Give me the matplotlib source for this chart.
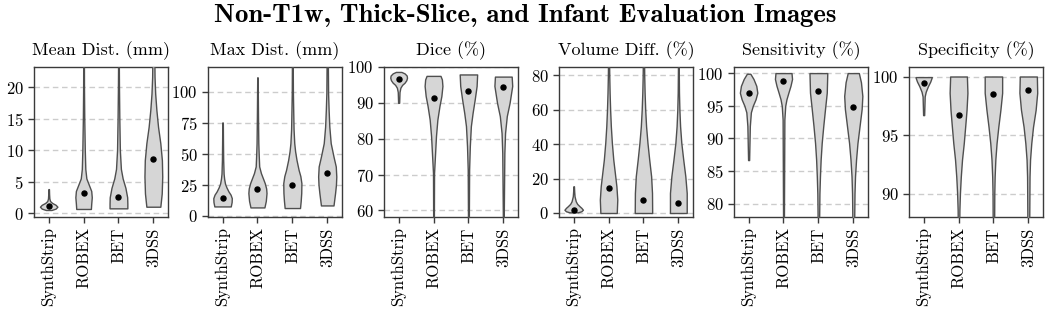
import matplotlib
matplotlib.use("Agg")
import matplotlib.pyplot as plt
import numpy as np

plt.rcParams['font.family'] = ['cmr10']
plt.rcParams['mathtext.fontset'] = 'cm'
plt.rcParams['axes.formatter.use_mathtext'] = True
plt.rcParams['axes.unicode_minus'] = False

METHODS = ["SynthStrip", "ROBEX", "BET", "3DSS"]
TITLES = ["Mean Dist. (mm)", "Max Dist. (mm)", "Dice (%)",
          "Volume Diff. (%)", "Sensitivity (%)", "Specificity (%)"]
SUPTITLE = "Non-T1w, Thick-Slice, and Infant Evaluation Images"

# ---- Mean Dist. (mm) ----
MEAN_DIST_Y = [[0.48, 0.7, 1.0, 1.3, 1.6, 1.9, 2.3, 3.0, 3.8],
               [0.64, 1.5, 2.5, 3.5, 4.5, 5.5, 7, 10, 15, 20, 24],
               [0.74, 1.5, 2.5, 4, 5.5, 7, 10, 15, 20, 24],
               [1.0, 3.1, 5.8, 8.4, 11.1, 13.7, 16.4, 19, 21.7, 24]]
MEAN_DIST_W = [[0.08, 0.2, 0.25, 0.2, 0.1, 0.04, 0.02, 0.012, 0.008],
               [0.21, 0.22, 0.235, 0.22, 0.15, 0.08, 0.05, 0.035, 0.02, 0.012, 0.01],
               [0.255, 0.255, 0.25, 0.2, 0.12, 0.07, 0.04, 0.025, 0.015, 0.01],
               [0.2, 0.24, 0.255, 0.245, 0.2, 0.135, 0.087, 0.053, 0.034, 0.03]]
MEAN_DIST_DOT = [1.1, 3.13, 2.5, 8.6]

# ---- Max Dist. (mm) ----
MAX_DIST_Y = [[7.5, 11, 14.2, 17, 19.6, 23, 26, 30, 34, 45, 60, 75.3],
              [6.7, 12, 18.3, 22, 26.3, 30, 34.4, 39.8, 50, 58.6, 80, 100, 111.8],
              [6.2, 12, 18.3, 26.3, 32, 37, 45, 52, 58.6, 70, 85.5, 100, 122],
              [8.3, 18.3, 25, 31.7, 39.8, 47.8, 58.6, 72, 85.5, 99, 122]]
MAX_DIST_W = [[0.235, 0.26, 0.265, 0.23, 0.17, 0.11, 0.07, 0.045, 0.03, 0.018, 0.012, 0.008],
              [0.2, 0.24, 0.26, 0.25, 0.21, 0.16, 0.1, 0.05, 0.035, 0.025, 0.016, 0.01, 0.006],
              [0.22, 0.24, 0.255, 0.26, 0.23, 0.18, 0.12, 0.08, 0.055, 0.035, 0.025, 0.016, 0.012],
              [0.18, 0.225, 0.25, 0.26, 0.245, 0.18, 0.1, 0.06, 0.04, 0.025, 0.018]]
MAX_DIST_DOT = [14.2, 21.2, 24.7, 34.4]

# ---- Dice (%) ----
DICE_Y = [[90.0, 93.0, 94.2, 95.0, 95.6, 96.3, 97.0, 97.6, 98.2, 98.6],
          [57, 70.4, 76.0, 80.7, 85.3, 89.1, 91.9, 94.7, 96.5, 97.5],
          [57, 71.4, 77.9, 83.5, 87.2, 90.9, 94.7, 97.9],
          [57, 76, 81.6, 86.3, 90, 94.7, 97.3]]
DICE_W = [[0.015, 0.025, 0.05, 0.1, 0.17, 0.22, 0.24, 0.23, 0.17, 0.08],
          [0.01, 0.015, 0.045, 0.07, 0.11, 0.17, 0.225, 0.255, 0.24, 0.2],
          [0.012, 0.02, 0.04, 0.07, 0.12, 0.18, 0.235, 0.25],
          [0.012, 0.03, 0.05, 0.1, 0.18, 0.255, 0.24]]
DICE_DOT = [96.5, 91.4, 93.3, 94.5]

# ---- Volume Diff. (%) ----
VOL_Y = [[0.4, 1.0, 1.9, 3.0, 3.9, 5.3, 6.8, 9.7, 12.5, 15.5],
         [0.0, 7.75, 15.5, 23.3, 31, 40.7, 50.4, 60, 69.8, 79.5, 87],
         [0.0, 11.6, 21.3, 31, 40.7, 50.4, 60, 69.8, 79.5, 87],
         [0.0, 11.6, 21.3, 31, 40.7, 50.4, 60, 69.8, 87]]
VOL_W = [[0.12, 0.22, 0.265, 0.22, 0.17, 0.1, 0.06, 0.025, 0.015, 0.008],
         [0.235, 0.25, 0.225, 0.18, 0.135, 0.095, 0.065, 0.045, 0.03, 0.02, 0.015],
         [0.25, 0.245, 0.22, 0.165, 0.115, 0.075, 0.05, 0.033, 0.022, 0.018],
         [0.24, 0.24, 0.2, 0.14, 0.085, 0.05, 0.03, 0.018, 0.01]]
VOL_DOT = [1.9, 14.5, 7.6, 5.8]

# ---- Sensitivity (%) ----
SENS_Y = [[86.7, 89.3, 91.9, 94.0, 95.0, 96.0, 97.0, 98.05, 99.1, 99.9],
          [77, 92.9, 95.0, 96.0, 97.0, 98.05, 99.1, 100],
          [77, 81.6, 84.2, 86.8, 89.3, 91.9, 94.5, 97.0, 100],
          [77, 81.6, 84.2, 86.8, 89.3, 91.9, 94.5, 96.5, 98.6, 100]]
SENS_W = [[0.015, 0.025, 0.035, 0.065, 0.12, 0.2, 0.25, 0.22, 0.14, 0.05],
          [0.012, 0.025, 0.05, 0.085, 0.14, 0.2, 0.245, 0.23],
          [0.02, 0.03, 0.045, 0.065, 0.095, 0.14, 0.19, 0.24, 0.255],
          [0.025, 0.035, 0.05, 0.08, 0.12, 0.18, 0.24, 0.26, 0.22, 0.16]]
SENS_DOT = [96.9, 98.8, 97.2, 94.8]

# ---- Specificity (%) ----
SPEC_Y = [[96.7, 98.3, 98.7, 99.15, 99.57, 99.95],
          [87, 88.6, 90.0, 91.45, 92.9, 94.3, 95.7, 97.15, 98.6, 100],
          [87, 90, 91.45, 92.9, 94.3, 95.7, 97.15, 98.6, 100],
          [87, 91.45, 92.9, 94.3, 95.7, 97.15, 98.6, 100]]
SPEC_W = [[0.015, 0.03, 0.06, 0.12, 0.19, 0.235],
          [0.02, 0.025, 0.04, 0.065, 0.1, 0.15, 0.19, 0.23, 0.255, 0.24],
          [0.02, 0.025, 0.035, 0.055, 0.09, 0.14, 0.2, 0.25, 0.25],
          [0.025, 0.035, 0.05, 0.085, 0.135, 0.21, 0.255, 0.245]]
SPEC_DOT = [99.43, 96.7, 98.5, 98.86]

YLIMS = [(-0.63, 23.3), (-1.0, 120.5), (58.2, 100.1),
         (-2.3, 85.0), (78.0, 101.0), (88.0, 100.85)]
YTICKS = [[0, 5, 10, 15, 20], [0, 25, 50, 75, 100], [60, 70, 80, 90, 100],
          [0, 20, 40, 60, 80], [80, 85, 90, 95, 100], [90, 95, 100]]

PROFILES_Y = [MEAN_DIST_Y, MAX_DIST_Y, DICE_Y, VOL_Y, SENS_Y, SPEC_Y]
PROFILES_W = [MEAN_DIST_W, MAX_DIST_W, DICE_W, VOL_W, SENS_W, SPEC_W]
DOTS = [MEAN_DIST_DOT, MAX_DIST_DOT, DICE_DOT, VOL_DOT, SENS_DOT, SPEC_DOT]

FILL = "#d6d6d6"
EDGE = "#4f4f4f"
SPINE = "#3a3a3a"

fig = plt.figure(figsize=(10.5, 3.2), dpi=100)
lefts = [0.0324, 0.198, 0.3657, 0.5324, 0.699, 0.8657]
width = 0.1276
bottom = 0.322
height = 0.470

for k in range(6):
    ax = fig.add_axes([lefts[k], bottom, width, height])
    for i in range(4):
        ys = np.array(PROFILES_Y[k][i])
        ws = np.array(PROFILES_W[k][i])
        ax.fill_betweenx(ys, i - ws, i + ws, facecolor=FILL, edgecolor=EDGE,
                         linewidth=1.0, zorder=3)
        ax.plot([i], [DOTS[k][i]], 'o', color='black', markersize=3.6, zorder=4)
    ax.set_xlim(-0.42, 3.42)
    ax.set_ylim(*YLIMS[k])
    ax.set_yticks(YTICKS[k])
    ax.set_xticks(range(4))
    ax.set_xticklabels(METHODS, rotation=90, fontsize=12)
    ax.tick_params(axis='y', labelsize=12, length=4.5, width=1.0, color=SPINE, pad=3)
    ax.tick_params(axis='x', length=4.5, width=1.0, color=SPINE, pad=3)
    ax.yaxis.grid(True, linestyle=(0, (4, 2.6)), color='#cccccc', linewidth=1.0, zorder=0)
    ax.set_axisbelow(True)
    for s in ax.spines.values():
        s.set_color(SPINE)
        s.set_linewidth(1.0)
    ax.set_title(TITLES[k], fontsize=13, pad=8)

fig.text(0.5, 0.952, SUPTITLE, ha='center', va='center', fontsize=19.3,
         family='cmb10')

fig.savefig("out.png", dpi=100)
